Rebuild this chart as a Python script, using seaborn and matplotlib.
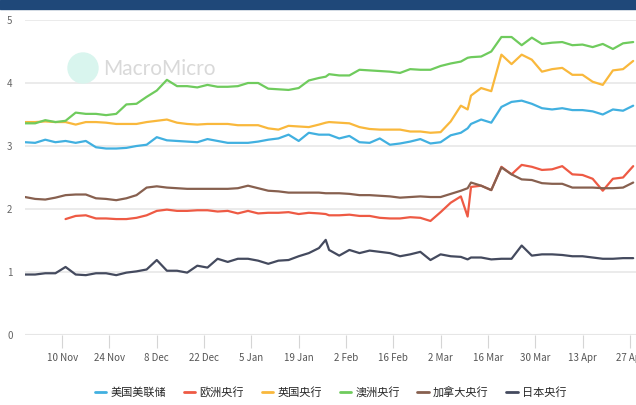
import pandas as pd
import seaborn as sns
import matplotlib.pyplot as plt
import matplotlib.dates as mdates
from matplotlib.patches import Rectangle, Ellipse

# --- data ---
dates = [
    "2024-10-30", "2024-11-02", "2024-11-05", "2024-11-08", "2024-11-11", "2024-11-14",
    "2024-11-17", "2024-11-20", "2024-11-23", "2024-11-26", "2024-11-29", "2024-12-02",
    "2024-12-05", "2024-12-08", "2024-12-11", "2024-12-14", "2024-12-17", "2024-12-20",
    "2024-12-23", "2024-12-26", "2024-12-29", "2025-01-01", "2025-01-04", "2025-01-07",
    "2025-01-10", "2025-01-13", "2025-01-16", "2025-01-19", "2025-01-22", "2025-01-25",
    "2025-01-27", "2025-01-28", "2025-01-31", "2025-02-03", "2025-02-06", "2025-02-09",
    "2025-02-12", "2025-02-15", "2025-02-18", "2025-02-21", "2025-02-24", "2025-02-27",
    "2025-03-02", "2025-03-05", "2025-03-08", "2025-03-10", "2025-03-11", "2025-03-14",
    "2025-03-17", "2025-03-20", "2025-03-23", "2025-03-26", "2025-03-29", "2025-04-01",
    "2025-04-04", "2025-04-07", "2025-04-10", "2025-04-13", "2025-04-16", "2025-04-19",
    "2025-04-22", "2025-04-25", "2025-04-28",
]

us_fed = [
    3.06, 3.05, 3.10, 3.06, 3.08, 3.05, 3.08, 2.98, 2.96, 2.96,
    2.97, 3.00, 3.02, 3.14, 3.09, 3.08, 3.07, 3.06, 3.11, 3.08,
    3.05, 3.05, 3.05, 3.07, 3.10, 3.12, 3.18, 3.08, 3.21, 3.18,
    3.18, 3.18, 3.12, 3.16, 3.06, 3.05, 3.12, 3.02, 3.04, 3.07,
    3.11, 3.04, 3.06, 3.17, 3.21, 3.28, 3.35, 3.42, 3.37, 3.62,
    3.70, 3.72, 3.67, 3.60, 3.58, 3.60, 3.57, 3.57, 3.55, 3.50,
    3.58, 3.56, 3.64,
]
ecb = [
    None, None, None, None, 1.84, 1.89, 1.90, 1.85, 1.85, 1.84,
    1.84, 1.86, 1.90, 1.97, 1.99, 1.97, 1.97, 1.98, 1.98, 1.96,
    1.97, 1.93, 1.97, 1.93, 1.94, 1.94, 1.95, 1.92, 1.94, 1.93,
    1.92, 1.90, 1.90, 1.91, 1.89, 1.89, 1.86, 1.85, 1.85, 1.87,
    1.86, 1.81, 1.95, 2.10, 2.20, 1.88, 2.35, 2.37, 2.30, 2.67,
    2.55, 2.70, 2.67, 2.62, 2.63, 2.68, 2.55, 2.54, 2.48, 2.29,
    2.48, 2.50, 2.68,
]
boe = [
    3.38, 3.38, 3.39, 3.38, 3.38, 3.34, 3.38, 3.38, 3.37, 3.35,
    3.35, 3.35, 3.38, 3.40, 3.42, 3.37, 3.35, 3.34, 3.35, 3.35,
    3.35, 3.33, 3.33, 3.33, 3.28, 3.26, 3.32, 3.31, 3.30, 3.34,
    3.37, 3.38, 3.37, 3.36, 3.30, 3.27, 3.26, 3.26, 3.26, 3.23,
    3.23, 3.21, 3.22, 3.39, 3.64, 3.58, 3.80, 3.92, 3.87, 4.45,
    4.30, 4.45, 4.37, 4.18, 4.22, 4.24, 4.13, 4.13, 4.02, 3.97,
    4.20, 4.22, 4.35,
]
rba = [
    3.36, 3.36, 3.41, 3.38, 3.40, 3.53, 3.51, 3.51, 3.49, 3.51,
    3.66, 3.67, 3.78, 3.88, 4.05, 3.95, 3.95, 3.93, 3.97, 3.94,
    3.94, 3.95, 4.00, 4.00, 3.91, 3.90, 3.89, 3.92, 4.04, 4.08,
    4.10, 4.14, 4.12, 4.12, 4.21, 4.20, 4.19, 4.18, 4.16, 4.22,
    4.21, 4.21, 4.27, 4.31, 4.34, 4.40, 4.41, 4.42, 4.50, 4.73,
    4.73, 4.60, 4.72, 4.62, 4.64, 4.65, 4.60, 4.61, 4.57, 4.62,
    4.54, 4.63, 4.65,
]
boc = [
    2.19, 2.16, 2.15, 2.18, 2.22, 2.23, 2.23, 2.17, 2.16, 2.14,
    2.17, 2.22, 2.34, 2.36, 2.34, 2.33, 2.32, 2.32, 2.32, 2.32,
    2.32, 2.33, 2.37, 2.33, 2.29, 2.28, 2.26, 2.26, 2.26, 2.26,
    2.25, 2.25, 2.25, 2.24, 2.22, 2.22, 2.21, 2.20, 2.18, 2.19,
    2.20, 2.19, 2.19, 2.24, 2.29, 2.33, 2.42, 2.37, 2.30, 2.66,
    2.55, 2.47, 2.46, 2.41, 2.40, 2.40, 2.34, 2.34, 2.34, 2.33,
    2.33, 2.34, 2.42,
]
boj = [
    0.96, 0.96, 0.98, 0.98, 1.08, 0.96, 0.95, 0.98, 0.98, 0.95,
    0.99, 1.01, 1.04, 1.19, 1.02, 1.02, 0.99, 1.10, 1.07, 1.21,
    1.16, 1.21, 1.21, 1.18, 1.13, 1.18, 1.19, 1.25, 1.30, 1.38,
    1.51, 1.35, 1.26, 1.35, 1.30, 1.34, 1.32, 1.30, 1.25, 1.28,
    1.32, 1.19, 1.28, 1.25, 1.24, 1.20, 1.23, 1.23, 1.20, 1.21,
    1.21, 1.42, 1.26, 1.28, 1.28, 1.27, 1.25, 1.25, 1.23, 1.21,
    1.21, 1.22, 1.22,
]

series_names = ["美国美联储", "欧洲央行", "英国央行", "澳洲央行", "加拿大央行", "日本央行"]
series_colors = ["#41b0e0", "#ee5a44", "#f9b83c", "#6fcb5d", "#87604f", "#444a5e"]
tick_dates = [
    "2024-11-10", "2024-11-24", "2024-12-08", "2024-12-22", "2025-01-05", "2025-01-19",
    "2025-02-02", "2025-02-16", "2025-03-02", "2025-03-16", "2025-03-30", "2025-04-13",
    "2025-04-27",
]

# --- long table for seaborn ---
df = pd.DataFrame({"date": pd.to_datetime(dates)})
for name, vals in zip(series_names, [us_fed, ecb, boe, rba, boc, boj]):
    df[name] = pd.to_numeric(pd.Series(vals, dtype="float"))
long_df = df.melt(id_vars="date", var_name="bank", value_name="rate").dropna()

sns.set_theme(style="white")
plt.rcParams["font.family"] = ["Noto Sans CJK SC", "DejaVu Sans"]

fig = plt.figure(figsize=(6.36, 4.05), dpi=100)
ax = fig.add_axes([25 / 636, 1 - 335 / 405, 1 - 25 / 636, 315 / 405])

sns.lineplot(
    data=long_df, x="date", y="rate", hue="bank",
    hue_order=series_names, palette=dict(zip(series_names, series_colors)),
    estimator=None, linewidth=1.6, ax=ax, legend=False,
)

ax.set_ylim(0, 5)
ax.set_xlim(pd.Timestamp("2024-10-30"), pd.Timestamp("2025-04-28 20:00"))
ax.set_yticks([0, 1, 2, 3, 4, 5])
ax.yaxis.grid(True, color="#e8e8e8", linewidth=1.2)
ax.set_axisbelow(True)
for s in ax.spines.values():
    s.set_visible(False)
ax.set_xlabel("")
ax.set_ylabel("")

ax.set_xticks(pd.to_datetime(tick_dates))
ax.xaxis.set_major_formatter(mdates.DateFormatter("%-d %b"))
ax.tick_params(axis="x", bottom=True, length=9, width=0.8, color="#d5d5d5",
               labelsize=7, labelcolor="#555555", pad=4)
ax.tick_params(axis="y", left=False, length=0, labelsize=7, labelcolor="#666666", pad=9)
ax.axhline(0, color="#e0e0e0", linewidth=1.5, zorder=0)

# top banner
fig.patches.append(Rectangle((0, 1 - 9 / 405), 1, 9 / 405, transform=fig.transFigure,
                             color="#1f4879", zorder=5))

# watermark
fig.patches.append(Ellipse((83 / 636, 1 - 68 / 405), 30 / 636, 30 / 405,
                           transform=fig.transFigure, color="#d9f5ee", zorder=0))
fig.text(103 / 636, 1 - 69 / 405, "MacroMicro", fontsize=15, color="#d9d9d9",
         ha="left", va="center", family=["Lato", "DejaVu Sans"], zorder=0)

# legend
handles = [plt.Line2D([], [], color=c, linewidth=2) for c in series_colors]
fig.legend(handles, series_names, loc="center", bbox_to_anchor=(0.52, 1 - 392 / 405),
           ncol=6, frameon=False, fontsize=8, handlelength=1.0, handletextpad=0.4,
           columnspacing=1.6)

plt.savefig("out.png", dpi=100)
